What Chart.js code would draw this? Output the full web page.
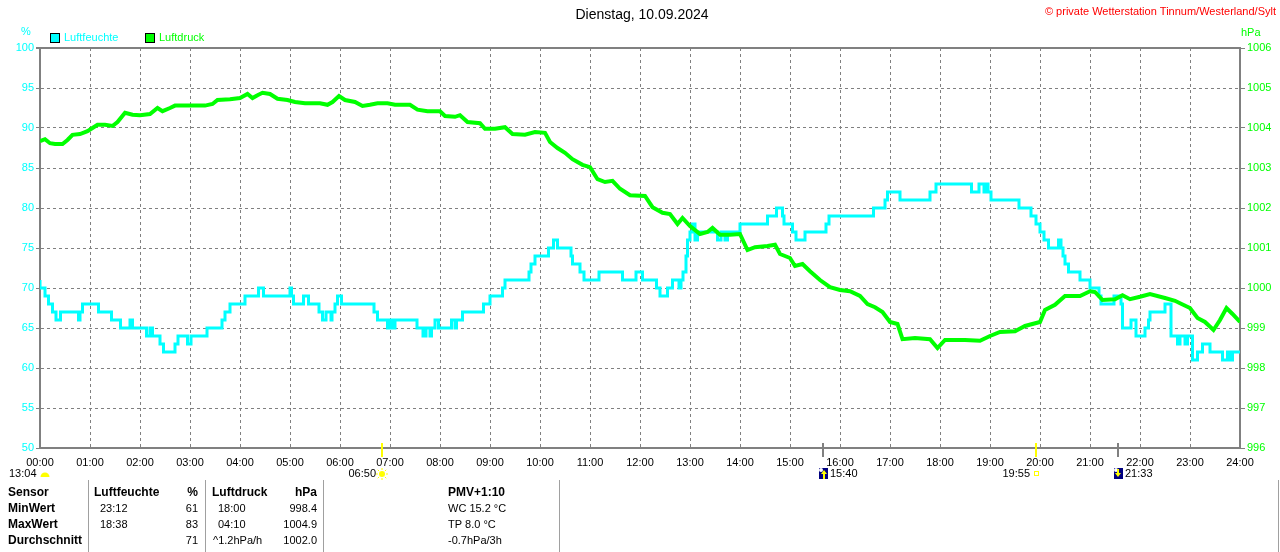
<!DOCTYPE html>
<html><head><meta charset="utf-8">
<script src="https://cdn.jsdelivr.net/npm/chart.js@4.4.1/dist/chart.umd.min.js"></script>
<style>html,body{margin:0;padding:0;background:#fff;overflow:hidden}canvas{display:block}</style>
</head><body>
<canvas id="c" width="1280" height="552"></canvas>
<script>
// ---- data ----
const titleText = 'Dienstag, 10.09.2024';
const copyrightText = '\u00A9 private Wetterstation Tinnum/Westerland/Sylt';
const seriesNames = ['Luftfeuchte', 'Luftdruck'];
const humTimes = [0,0.1,0.17,0.25,0.32,0.41,0.77,0.8,0.85,1.17,1.43,1.61,1.8,1.85,2.13,2.2,2.25,2.4,2.47,2.7,2.76,2.95,3.02,3.34,3.64,3.7,3.8,4.1,4.37,4.47,5.0,5.03,5.07,5.27,5.37,5.58,5.65,5.72,5.82,5.84,5.9,5.95,6.03,6.68,6.75,6.95,7.0,7.05,7.1,7.54,7.66,7.72,7.8,7.83,7.9,7.97,8.23,8.3,8.33,8.45,8.87,9.0,9.25,9.3,9.78,9.82,9.9,10.17,10.27,10.35,10.62,10.65,10.8,10.88,11.18,11.65,11.92,12.05,12.33,12.4,12.55,12.65,12.78,12.82,12.86,12.92,12.95,13.0,13.05,13.1,13.15,13.55,13.62,13.7,13.75,14.0,14.55,14.73,14.85,14.88,15.05,15.12,15.3,15.72,15.78,16.67,16.9,16.95,17.2,17.8,17.92,18.63,18.78,18.88,18.92,18.96,19.02,19.58,19.82,19.92,20.0,20.08,20.17,20.37,20.42,20.46,20.5,20.57,20.8,21.0,21.18,21.22,21.48,21.62,21.65,21.82,21.92,22.1,22.17,22.2,22.5,22.62,22.75,22.8,22.9,22.95,23.05,23.15,23.25,23.4,23.65,23.75,23.8,23.85,23.95,24];
const humValues = [71,70,69,68,67,66,67,66,67,68,67,66,65,66,65,64,65,64,63,62,63,64,63,64,65,66,67,68,69,70,69,70,69,68,69,68,67,66,67,66,67,68,69,68,67,66,65,66,65,66,65,64,65,64,65,66,65,66,65,66,67,68,69,70,71,72,73,74,75,76,75,74,73,72,71,72,71,72,71,70,69,70,71,70,71,72,74,76,77,78,76,77,76,77,76,77,78,79,80,79,78,77,76,77,78,79,80,81,82,81,82,83,82,83,82,83,82,81,80,79,78,77,76,75,76,75,74,73,72,71,70,69,68,69,68,65,66,64,65,66,67,68,64,63,64,63,64,61,62,63,62,61,62,61,62,62];
const presTimes = [0,0.1,0.2,0.3,0.45,0.55,0.65,0.8,0.95,1.05,1.15,1.3,1.45,1.55,1.7,1.85,2.0,2.2,2.35,2.45,2.6,2.7,3.0,3.3,3.45,3.55,3.8,4.0,4.15,4.25,4.35,4.45,4.6,4.75,4.95,5.1,5.3,5.6,5.75,5.85,5.98,6.1,6.3,6.45,6.6,6.75,6.95,7.1,7.4,7.55,7.75,8.0,8.1,8.3,8.4,8.55,8.8,8.9,9.1,9.3,9.45,9.7,9.9,10.1,10.2,10.35,10.5,10.65,10.85,11.0,11.15,11.3,11.45,11.6,11.8,12.1,12.25,12.45,12.6,12.75,12.85,13.0,13.2,13.35,13.45,13.6,13.8,14.0,14.15,14.3,14.55,14.7,14.8,15.0,15.1,15.25,15.4,15.6,15.8,16.0,16.2,16.4,16.55,16.7,16.85,17.0,17.15,17.25,17.5,17.8,17.95,18.1,18.5,18.8,19.0,19.2,19.5,19.7,20.0,20.1,20.3,20.5,20.8,21.0,21.1,21.25,21.5,21.65,21.8,22.0,22.2,22.5,22.7,22.8,23.0,23.15,23.3,23.47,23.6,23.73,23.85,24.0];
const presValues = [1003.67,1003.72,1003.62,1003.6,1003.6,1003.7,1003.83,1003.85,1003.92,1004.0,1004.08,1004.08,1004.05,1004.15,1004.38,1004.33,1004.32,1004.35,1004.5,1004.42,1004.5,1004.56,1004.56,1004.56,1004.6,1004.7,1004.72,1004.75,1004.85,1004.75,1004.82,1004.88,1004.85,1004.73,1004.7,1004.65,1004.62,1004.62,1004.58,1004.65,1004.8,1004.7,1004.65,1004.55,1004.58,1004.62,1004.62,1004.58,1004.58,1004.46,1004.42,1004.42,1004.3,1004.28,1004.32,1004.15,1004.12,1003.98,1003.98,1004.02,1003.85,1003.83,1003.9,1003.88,1003.65,1003.5,1003.38,1003.22,1003.08,1003.02,1002.72,1002.65,1002.68,1002.48,1002.32,1002.3,1002.02,1001.88,1001.85,1001.6,1001.75,1001.55,1001.35,1001.4,1001.5,1001.33,1001.33,1001.35,1000.95,1001.02,1001.05,1001.08,1000.85,1000.75,1000.55,1000.6,1000.42,1000.2,1000.02,999.95,999.92,999.8,999.6,999.52,999.4,999.15,999.1,998.72,998.75,998.72,998.5,998.7,998.7,998.68,998.8,998.9,998.92,999.05,999.15,999.45,999.58,999.8,999.8,999.92,999.9,999.7,999.72,999.82,999.72,999.78,999.85,999.75,999.68,999.62,999.5,999.25,999.15,998.95,999.2,999.5,999.35,999.15];
const sunEvents = [{t:'06:50', kind:'rise'}, {t:'19:55', kind:'set'}];
const moonEvents = [{t:'15:40', kind:'up'}, {t:'21:33', kind:'down'}];
const moonPrev = '13:04';
const tableHeader = ['Sensor','Luftfeuchte','%','Luftdruck','hPa','PMV+1:10'];
const rowLabels = ['MinWert','MaxWert','Durchschnitt'];
const humTimeCol = ['23:12','18:38',''];
const humValCol = ['61','83','71'];
const presTimeCol = ['18:00','04:10','^1.2hPa/h'];
const presValCol = ['998.4','1004.9','1002.0'];
const pmvCol = ['WC 15.2 \u00B0C','TP 8.0 \u00B0C','-0.7hPa/3h'];

// ---- styles ----
const CYAN = '#00ffff', GREEN = '#00ff00', GRID = '#808080';
const FONT = '"Liberation Sans", Arial, sans-serif';
const toH = s => { const [h,m] = s.split(':').map(Number); return h + m/60; };
const pad2 = n => (n < 10 ? '0' : '') + n;

const extras = {
  id: 'extras',
  beforeDatasetsDraw(chart) {
    const {ctx, chartArea: a} = chart;
    ctx.save();
    ctx.strokeStyle = GRID; ctx.lineWidth = 2;
    ctx.beginPath(); ctx.moveTo(a.left - 4, a.top); ctx.lineTo(a.right, a.top); ctx.stroke();
    ctx.restore();
  },
  afterDraw(chart) {
    const {ctx, chartArea: a} = chart;
    const xs = chart.scales.x;
    ctx.save();
    ctx.textBaseline = 'middle';
    ctx.fillStyle = '#000'; ctx.font = '14px ' + FONT; ctx.textAlign = 'center';
    ctx.fillText(titleText, 642, 15);
    ctx.fillStyle = '#ff0000'; ctx.font = '11px ' + FONT; ctx.textAlign = 'right';
    ctx.fillText(copyrightText, 1276, 12);
    ctx.font = '11px ' + FONT; ctx.textAlign = 'center';
    ctx.fillStyle = CYAN; ctx.fillText('%', 26, 32);
    ctx.textAlign = 'left'; ctx.fillStyle = GREEN; ctx.fillText('hPa', 1241, 33);
    const leg = [{x:50, c:CYAN, n:seriesNames[0]}, {x:145, c:GREEN, n:seriesNames[1]}];
    leg.forEach(l => {
      ctx.fillStyle = l.c; ctx.fillRect(l.x + 0.5, 33.5, 9, 9);
      ctx.strokeStyle = '#000'; ctx.lineWidth = 1; ctx.strokeRect(l.x + 0.5, 33.5, 9, 9);
      ctx.fillStyle = l.c; ctx.fillText(l.n, l.x + 14, 38);
    });
    ctx.font = '11px ' + FONT; ctx.fillStyle = '#000';
    ctx.textAlign = 'left'; ctx.fillText(moonPrev, 9, 474);
    ctx.fillStyle = '#ffff00';
    ctx.beginPath(); ctx.arc(45, 477, 4.5, Math.PI, 0); ctx.closePath(); ctx.fill();
    sunEvents.forEach(e => {
      const px = Math.round(xs.getPixelForValue(toH(e.t)));
      ctx.fillStyle = '#ffff00'; ctx.fillRect(px - 1, a.bottom - 5, 2, 14);
      ctx.fillStyle = '#000'; ctx.textAlign = 'right'; ctx.fillText(e.t, px - 6, 474);
      if (e.kind === 'rise') {
        ctx.fillStyle = '#ffff00'; ctx.beginPath(); ctx.arc(px, 474, 3, 0, Math.PI * 2); ctx.fill();
        ctx.strokeStyle = '#ffff00'; ctx.lineWidth = 1;
        for (let k = 0; k < 8; k++) { const an = k * Math.PI / 4;
          ctx.beginPath(); ctx.moveTo(px + Math.cos(an) * 4, 474 + Math.sin(an) * 4);
          ctx.lineTo(px + Math.cos(an) * 6, 474 + Math.sin(an) * 6); ctx.stroke(); }
      } else {
        ctx.strokeStyle = '#ffff00'; ctx.lineWidth = 1; ctx.strokeRect(px - 1.5, 471.5, 4, 4);
      }
    });
    moonEvents.forEach(e => {
      const px = Math.round(xs.getPixelForValue(toH(e.t)));
      ctx.fillStyle = GRID; ctx.fillRect(px - 1, a.bottom - 5, 2, 14);
      ctx.fillStyle = '#000080'; ctx.fillRect(px - 4, 468, 9, 11);
      ctx.fillStyle = '#ffffff'; ctx.beginPath(); ctx.arc(px - 2, 470, 2, 0, Math.PI * 2); ctx.fill();
      ctx.fillStyle = '#ffff00';
      if (e.kind === 'up') { ctx.beginPath(); ctx.moveTo(px + 1, 470); ctx.lineTo(px + 4, 474); ctx.lineTo(px - 2, 474); ctx.fill(); ctx.fillRect(px, 474, 2, 5); }
      else { ctx.fillRect(px - 1, 469, 2, 5); ctx.beginPath(); ctx.moveTo(px, 477); ctx.lineTo(px + 3, 473); ctx.lineTo(px - 3, 473); ctx.fill(); }
      ctx.fillStyle = '#000'; ctx.textAlign = 'left'; ctx.fillText(e.t, px + 7, 474);
    });
    ctx.strokeStyle = '#a0a0a0'; ctx.lineWidth = 1;
    [88.5, 205.5, 323.5, 559.5, 1278.5].forEach(x => { ctx.beginPath(); ctx.moveTo(x, 480); ctx.lineTo(x, 552); ctx.stroke(); });
    const rowsY = [493, 509, 525, 541];
    const B = 'bold 12px ' + FONT, R = '11px ' + FONT;
    ctx.fillStyle = '#000';
    ctx.font = B; ctx.textAlign = 'left';
    ctx.fillText(tableHeader[0], 8, rowsY[0]);
    ctx.fillText(tableHeader[1], 94, rowsY[0]);
    ctx.textAlign = 'right'; ctx.fillText(tableHeader[2], 198, rowsY[0]);
    ctx.textAlign = 'left'; ctx.fillText(tableHeader[3], 212, rowsY[0]);
    ctx.textAlign = 'right'; ctx.fillText(tableHeader[4], 317, rowsY[0]);
    ctx.textAlign = 'left'; ctx.fillText(tableHeader[5], 448, rowsY[0]);
    rowLabels.forEach((lab, i) => {
      const y = rowsY[i + 1];
      ctx.font = B; ctx.textAlign = 'left'; ctx.fillText(lab, 8, y);
      ctx.font = R;
      ctx.fillText(humTimeCol[i], 100, y);
      ctx.fillText(presTimeCol[i], presTimeCol[i].startsWith('^') ? 213 : 218, y);
      ctx.fillText(pmvCol[i], 448, y);
      ctx.textAlign = 'right';
      ctx.fillText(humValCol[i], 198, y);
      ctx.fillText(presValCol[i], 317, y);
    });
    ctx.restore();
  }
};

new Chart(document.getElementById('c'), {
  type: 'line',
  data: {
    datasets: [
      { label: seriesNames[1], data: presTimes.map((t, i) => ({x: t, y: presValues[i]})), yAxisID: 'y1',
        borderColor: GREEN, borderWidth: 4, pointRadius: 0, tension: 0, fill: false },
      { label: seriesNames[0], data: humTimes.map((t, i) => ({x: t, y: humValues[i]})), yAxisID: 'y',
        borderColor: CYAN, borderWidth: 3, pointRadius: 0, stepped: 'after', fill: false }
    ]
  },
  options: {
    responsive: false, animation: false, events: [],
    layout: { padding: { top: 48, left: 0, right: 0, bottom: 0 } },
    plugins: { legend: { display: false }, tooltip: { enabled: false }, title: { display: false } },
    scales: {
      x: {
        type: 'linear', min: 0, max: 24,
        afterFit: s => { s.height = 104; },
        ticks: { stepSize: 1, autoSkip: false, maxRotation: 0, color: '#000', padding: 8,
                 font: { family: FONT, size: 11 }, callback: v => pad2(v) + ':00' },
        grid: { color: GRID, lineWidth: 1, drawTicks: false },
        border: { display: true, color: GRID, width: 2, dash: [3, 3] }
      },
      y: {
        position: 'left', min: 50, max: 100,
        afterFit: s => { s.width = 40; },
        ticks: { stepSize: 5, color: CYAN, padding: 2, font: { family: FONT, size: 11 }, callback: v => String(v) },
        grid: { color: GRID, lineWidth: 1, drawTicks: true, tickLength: 4, tickColor: GRID },
        border: { display: true, color: GRID, width: 2, dash: [3, 3] }
      },
      y1: {
        position: 'right', min: 996, max: 1006,
        afterFit: s => { s.width = 40; },
        ticks: { stepSize: 1, color: GREEN, padding: 2, font: { family: FONT, size: 11 }, callback: v => String(v) },
        grid: { drawOnChartArea: false, color: GRID, drawTicks: true, tickLength: 5, tickColor: GRID },
        border: { display: true, color: GRID, width: 2 }
      }
    }
  },
  plugins: [extras]
});
</script>
</body></html>
